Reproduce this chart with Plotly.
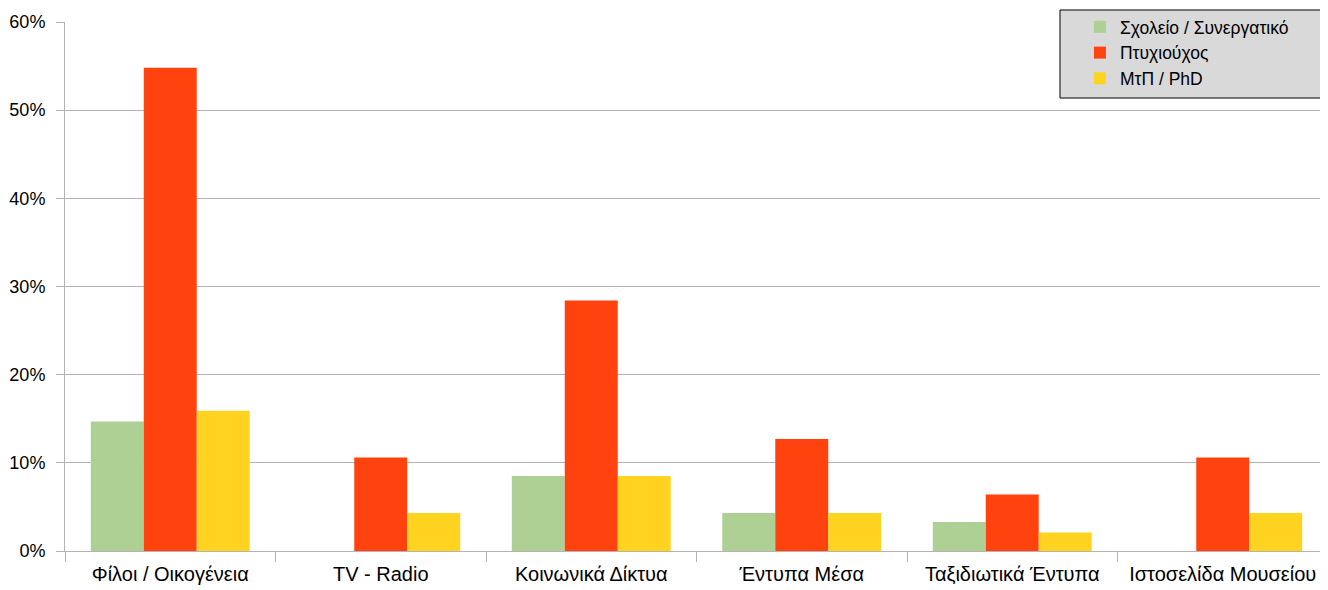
import plotly.graph_objects as go

# categories and series (share of respondents)
categories = ['Φίλοι / Οικογένεια', 'TV - Radio', 'Κοινωνικά Δίκτυα',
              'Έντυπα Μέσα', 'Ταξιδιωτικά Έντυπα', 'Ιστοσελίδα Μουσείου']
school = [0.147, 0.0, 0.085, 0.043, 0.033, 0.0]
graduate = [0.548, 0.106, 0.284, 0.127, 0.064, 0.106]
postgrad = [0.159, 0.043, 0.085, 0.043, 0.021, 0.043]

names = ['Σχολείο / Συνεργατικό', 'Πτυχιούχος', 'ΜτΠ / PhD']
colors = ['#afd095', '#ff420e', '#ffd320']

fig = go.Figure()
for name, vals, col in zip(names, [school, graduate, postgrad], colors):
    fig.add_trace(go.Bar(x=categories, y=vals, name=name, marker_color=col,
                         marker_line_width=0))

# page body has an 8px margin, so the figure is a bit smaller than the window
fig.update_layout(
    width=1320, height=582,
    font=dict(family='Liberation Sans, Arial, sans-serif', size=16, color='#000'),
    plot_bgcolor='white', paper_bgcolor='white',
    margin=dict(l=57, r=0, t=14, b=39, autoexpand=False),
    barmode='group', bargap=0.245, bargroupgap=0,
    showlegend=True,
    legend=dict(x=0.8036, xanchor='left', y=1.0246, yanchor='top',
                bgcolor='rgba(0,0,0,0)', borderwidth=0,
                font=dict(size=17.5), tracegroupgap=0),
)
# legend box
fig.add_shape(type='rect', xref='paper', yref='paper',
              x0=0.7878, x1=0.9996, y0=0.8563, y1=1.0227,
              fillcolor='#d9d9d9', line=dict(color='#000', width=1),
              layer='above')

fig.update_xaxes(showgrid=False, showline=True, linecolor='#b3b3b3',
                 ticks='outside', tickson='boundaries', ticklen=10,
                 tickcolor='#b3b3b3', tickfont=dict(size=20), automargin=False,
                 ticklabelstandoff=5)
fig.update_yaxes(range=[0, 0.6], dtick=0.1, tickformat='.0%',
                 gridcolor='#b3b3b3', showline=True, linecolor='#b3b3b3',
                 ticks='outside', ticklen=8, tickcolor='#b3b3b3',
                 zeroline=False, tickfont=dict(size=18), automargin=False,
                 ticklabelstandoff=7)

fig.write_html("out.html")
